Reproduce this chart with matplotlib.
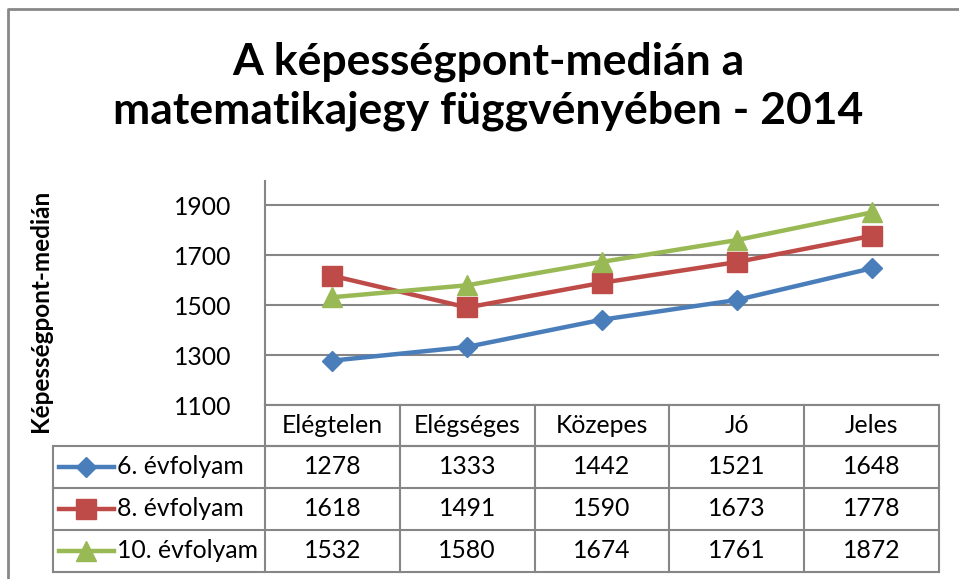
import matplotlib.pyplot as plt
from matplotlib.lines import Line2D
import matplotlib.transforms as mtransforms

plt.rcParams['font.family'] = ['Lato', 'DejaVu Sans']

# data
categories = ["Elégtelen", "Elégséges", "Közepes", "Jó", "Jeles"]
series_names = ["6. évfolyam", "8. évfolyam", "10. évfolyam"]
grade6 = [1278, 1333, 1442, 1521, 1648]
grade8 = [1618, 1491, 1590, 1673, 1778]
grade10 = [1532, 1580, 1674, 1761, 1872]
yticks = [1100, 1300, 1500, 1700, 1900]
title_lines = ["A képességpont-medián a", "matematikajegy függvényében - 2014"]

series = [grade6, grade8, grade10]
colors = ["#4A7EBB", "#BE4B48", "#98B954"]
markers = ["D", "s", "^"]
msizes = [10, 14, 14]

W, H = 959, 579
fig = plt.figure(figsize=(W / 100, H / 100), dpi=100)

# plot area in pixel coords
px_left, px_right, px_top, px_bottom = 265, 939, 180.5, 405
ax = fig.add_axes([px_left / W, 1 - px_bottom / H,
                   (px_right - px_left) / W, (px_bottom - px_top) / H])

x = list(range(len(categories)))
for vals, c, m, ms in zip(series, colors, markers, msizes):
    ax.plot(x, vals, color=c, lw=3.2, marker=m, markersize=ms,
            markeredgecolor=c, clip_on=False, zorder=3)

ax.set_xlim(-0.5, len(categories) - 0.5)
ax.set_ylim(1100, 2000)
ax.set_yticks(yticks)
ax.set_xticks([])
ax.grid(axis="y", color="#868686", lw=1.5)
ax.set_axisbelow(True)
for s in ["top", "right"]:
    ax.spines[s].set_visible(False)
for s in ["left", "bottom"]:
    ax.spines[s].set_color("#868686")
    ax.spines[s].set_linewidth(1.5)
ax.tick_params(axis="y", length=0, pad=24, labelsize=17.8, colors="black")

ax.set_ylabel("Képességpont-medián", fontsize=17.5, fontweight="bold", labelpad=0)
ax.yaxis.set_label_coords((52 - px_left) / (px_right - px_left), 0.42)

# data table below the plot
trans = mtransforms.blended_transform_factory(ax.transData, ax.transAxes)
unit = (px_right - px_left) / len(categories)


def ay(py):
    return (px_bottom - py) / (px_bottom - px_top)


def dx(px):
    return -0.5 + (px - px_left) / unit


row_edges = [405, 446, 488, 530, 572]
line_kw = dict(color="#868686", lw=1.5, transform=trans, clip_on=False)
legend_left = dx(53)

# horizontal lines
ax.add_line(Line2D([-0.5, 4.5], [ay(446)] * 2, **line_kw))
for py in row_edges[1:]:
    ax.add_line(Line2D([legend_left, 4.5], [ay(py)] * 2, **line_kw))
# vertical lines
for i in range(len(categories) + 1):
    ax.add_line(Line2D([i - 0.5] * 2, [ay(405), ay(572)], **line_kw))
ax.add_line(Line2D([legend_left] * 2, [ay(446), ay(572)], **line_kw))

fs = 17.8
for i, cat in enumerate(categories):
    ax.text(i, ay((405 + 446) / 2), cat, transform=trans, ha="center",
            va="center", fontsize=fs)

for r, (name, vals, c, m, ms) in enumerate(zip(series_names, series, colors, markers, msizes)):
    yc = ay((row_edges[r + 1] + row_edges[r + 2]) / 2)
    for i, v in enumerate(vals):
        ax.text(i, yc, str(v), transform=trans, ha="center", va="center", fontsize=fs)
    ax.add_line(Line2D([dx(59), dx(114)], [yc, yc], color=c, lw=3.2,
                       transform=trans, clip_on=False))
    ax.add_line(Line2D([dx(86.5)], [yc], color=c, marker=m, markersize=ms,
                       markeredgecolor=c, transform=trans, clip_on=False))
    ax.text(dx(117), yc, name, transform=trans, ha="left", va="center", fontsize=fs)

# title
for line, py in zip(title_lines, [75, 124]):
    fig.text(488 / W, 1 - py / H, line, ha="center", va="baseline",
             fontsize=32, fontweight="bold")

# chart frame
fig.add_artist(Line2D([8 / W, 8 / W, 1], [0, 1 - 9 / H, 1 - 9 / H],
                      color="#888888", lw=2, transform=fig.transFigure))

fig.savefig("out.png", dpi=100, facecolor="white")
